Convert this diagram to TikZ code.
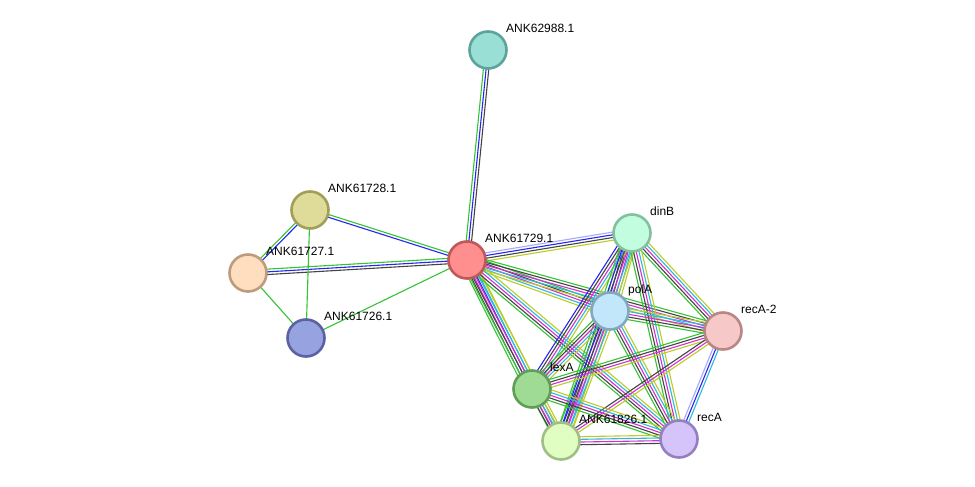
\documentclass[tikz,border=0pt]{standalone}
\usepackage{fontspec}
\setmainfont{Liberation Sans}
\usetikzlibrary{calc,backgrounds}
\definecolor{grn}{HTML}{33C433}
\definecolor{blu}{HTML}{2626EE}
\definecolor{blk}{HTML}{444444}
\definecolor{mag}{HTML}{D030D0}
\definecolor{cyn}{HTML}{30B8DC}
\definecolor{ylw}{HTML}{BCCC28}
\definecolor{lav}{HTML}{A8A8FF}
\definecolor{fa}{HTML}{99DFD6}\definecolor{sa}{HTML}{5BA49C}
\definecolor{fb}{HTML}{DEDC98}\definecolor{sb}{HTML}{A09E58}
\definecolor{fc}{HTML}{FFDDBF}\definecolor{sc}{HTML}{BD9C7E}
\definecolor{fd}{HTML}{97A3E0}\definecolor{sd}{HTML}{5A62A4}
\definecolor{fe}{HTML}{FF8F8F}\definecolor{se}{HTML}{C05858}
\definecolor{fg}{HTML}{C2FDE0}\definecolor{sg}{HTML}{84C0A0}
\definecolor{fh}{HTML}{C2E7FB}\definecolor{sh}{HTML}{80A8C0}
\definecolor{fi}{HTML}{F7C8C8}\definecolor{si}{HTML}{B98686}
\definecolor{fj}{HTML}{9FDB95}\definecolor{sj}{HTML}{5F9E56}
\definecolor{fk}{HTML}{E0FDC2}\definecolor{sk}{HTML}{A0BF84}
\definecolor{fl}{HTML}{D4C4FA}\definecolor{sl}{HTML}{9280C0}
\tikzset{
  prot/.style 2 args={circle, minimum size=37pt, inner sep=0pt, line width=2.6pt, fill=#1, draw=#2},
  lbl/.style={anchor=base west, inner sep=0pt, font=\fontsize{12}{14}\selectfont, text=black},
}
\newcommand\medge[4]{%
  \foreach \c [count=\i] in {#4}{%
    \pgfmathsetmacro\off{(\i-(#3+1)/2)*2.7}%
    \draw[\c, line width=1.1pt] ($(#1.center)!\off pt!90:(#2.center)$) -- ($(#2.center)!\off pt!-90:(#1.center)$);
  }%
}
\begin{document}
\begin{tikzpicture}[x=1pt,y=-1pt]
\useasboundingbox (0,0) rectangle (975,487);
\node[prot={fa}{sa}] (a) at (488,50) {};
\node[prot={fb}{sb}] (b) at (310,210) {};
\node[prot={fc}{sc}] (c) at (248,273) {};
\node[prot={fd}{sd}] (d) at (306,338) {};
\node[prot={fe}{se}] (e) at (467,260) {};
\node[prot={fg}{sg}] (dinB) at (632,233) {};
\node[prot={fh}{sh}] (polA) at (610,311) {};
\node[prot={fi}{si}] (recA2) at (723,331) {};
\node[prot={fj}{sj}] (lexA) at (532,389) {};
\node[prot={fk}{sk}] (f) at (561,441) {};
\node[prot={fl}{sl}] (recA) at (679,439) {};
\node[lbl] (la) at ([shift={(18,-17.5)}]a.center) {ANK62988.1};
\node[lbl] (lb) at ([shift={(18,-17.5)}]b.center) {ANK61728.1};
\node[lbl] (lc) at ([shift={(18,-17.5)}]c.center) {ANK61727.1};
\node[lbl] (ld) at ([shift={(18,-17.5)}]d.center) {ANK61726.1};
\node[lbl] (le) at ([shift={(18,-17.5)}]e.center) {ANK61729.1};
\node[lbl] (ldinB) at ([shift={(18,-17.5)}]dinB.center) {dinB};
\node[lbl] (lpolA) at ([shift={(18,-17.5)}]polA.center) {polA};
\node[lbl] (lrecA2) at ([shift={(18,-17.5)}]recA2.center) {recA-2};
\node[lbl] (llexA) at ([shift={(18,-17.5)}]lexA.center) {lexA};
\node[lbl] (lf) at ([shift={(18,-17.5)}]f.center) {ANK61826.1};
\node[lbl] (lrecA) at ([shift={(18,-17.5)}]recA.center) {recA};
\begin{pgfonlayer}{background}
\fill[white] (0,0) rectangle (975,487);
\medge{a}{e}{3}{grn,blu,blk}
\medge{b}{e}{2}{blu,grn}
\medge{c}{e}{3}{blk,blu,grn}
\medge{b}{c}{2}{grn,blu}
\medge{b}{d}{1}{grn}
\medge{c}{d}{1}{grn}
\medge{d}{e}{1}{grn}
\medge{e}{dinB}{4}{ylw,blk,blu,lav}
\medge{e}{polA}{5}{ylw,cyn,mag,blk,grn}
\medge{e}{recA2}{5}{ylw,cyn,mag,blk,grn}
\medge{e}{lexA}{6}{grn,blk,mag,blu,cyn,ylw}
\medge{e}{f}{5}{grn,blk,mag,cyn,ylw}
\medge{e}{recA}{5}{grn,blk,mag,cyn,ylw}
\medge{dinB}{polA}{6}{grn,blu,blk,mag,cyn,ylw}
\medge{dinB}{recA2}{5}{grn,blk,mag,cyn,ylw}
\medge{dinB}{lexA}{5}{blu,blk,mag,cyn,ylw}
\medge{dinB}{f}{6}{grn,blu,blk,mag,cyn,ylw}
\medge{dinB}{recA}{5}{grn,blk,mag,cyn,ylw}
\medge{polA}{recA2}{5}{grn,blk,mag,cyn,ylw}
\medge{polA}{lexA}{5}{grn,blk,mag,cyn,ylw}
\medge{polA}{f}{6}{grn,blu,blk,mag,cyn,ylw}
\medge{polA}{recA}{5}{grn,blk,mag,cyn,ylw}
\medge{recA2}{lexA}{4}{grn,blk,mag,ylw}
\medge{recA2}{f}{3}{blk,mag,ylw}
\medge{recA2}{recA}{3}{lav,blu,cyn}
\medge{lexA}{f}{4}{blk,mag,cyn,ylw}
\medge{lexA}{recA}{5}{grn,blk,mag,cyn,ylw}
\medge{f}{recA}{4}{blk,mag,cyn,ylw}
\end{pgfonlayer}
\end{tikzpicture}
\end{document}
